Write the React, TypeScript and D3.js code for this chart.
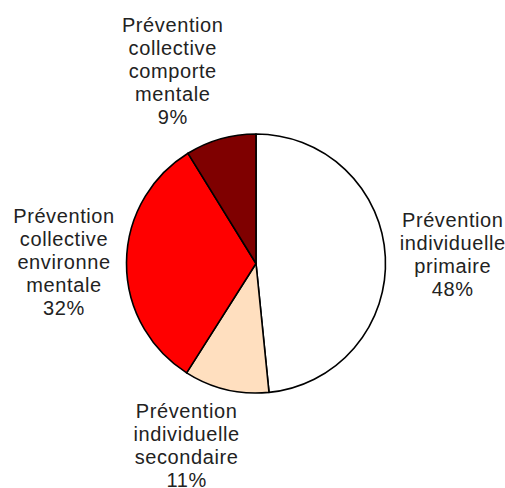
import React from "react";
import * as d3 from "d3";

const categories: string[][] = [
  ["Prévention", "individuelle", "primaire"],
  ["Prévention", "individuelle", "secondaire"],
  ["Prévention", "collective", "environne", "mentale"],
  ["Prévention", "collective", "comporte", "mentale"],
];
const values: number[] = [48.4, 10.6, 32.2, 8.8];
const colors: string[] = ["#FFFFFF", "#FFDFBF", "#FF0000", "#7F0000"];

// layout constants (not data)
const W = 505;
const H = 488;
const CX = 256;
const CY = 263.5;
const R = 129.5;
const LABEL_R = 197;
const LINE_H = 22.9;
const FONT = 20;
const nudges: [number, number][] = [
  [0, 1],
  [-24, -10],
  [5, 0],
  [-29.5, -3],
];

export default function App() {
  const total = d3.sum(values);
  const pie = d3
    .pie<number>()
    .sort(null)
    .value((d) => d);
  const arcs = pie(values);
  const arcGen = d3.arc<d3.PieArcDatum<number>>().innerRadius(0).outerRadius(R);

  return (
    <svg
      width={W}
      height={H}
      style={{ position: "absolute", left: 0, top: 0, background: "#fff" }}
    >
      <g transform={`translate(${CX},${CY})`}>
        {arcs.map((a, i) => (
          <path
            key={i}
            d={arcGen(a) || ""}
            fill={colors[i]}
            stroke="#000"
            strokeWidth={1.6}
            strokeLinejoin="round"
          />
        ))}
      </g>
      {arcs.map((a, i) => {
        const mid = (a.startAngle + a.endAngle) / 2;
        const x = CX + Math.sin(mid) * LABEL_R + nudges[i][0];
        const y = CY - Math.cos(mid) * LABEL_R + nudges[i][1];
        const lines = [...categories[i], `${Math.round((values[i] / total) * 100)}%`];
        const first = y - ((lines.length - 1) / 2) * LINE_H + 7;
        return (
          <text
            key={i}
            x={x}
            y={first}
            textAnchor="middle"
            fontFamily="'Liberation Sans', Arial, sans-serif"
            fontSize={FONT}
            letterSpacing={0.6}
            fill="#222"
          >
            {lines.map((l, j) => (
              <tspan key={j} x={x} y={first + j * LINE_H}>
                {l}
              </tspan>
            ))}
          </text>
        );
      })}
    </svg>
  );
}
